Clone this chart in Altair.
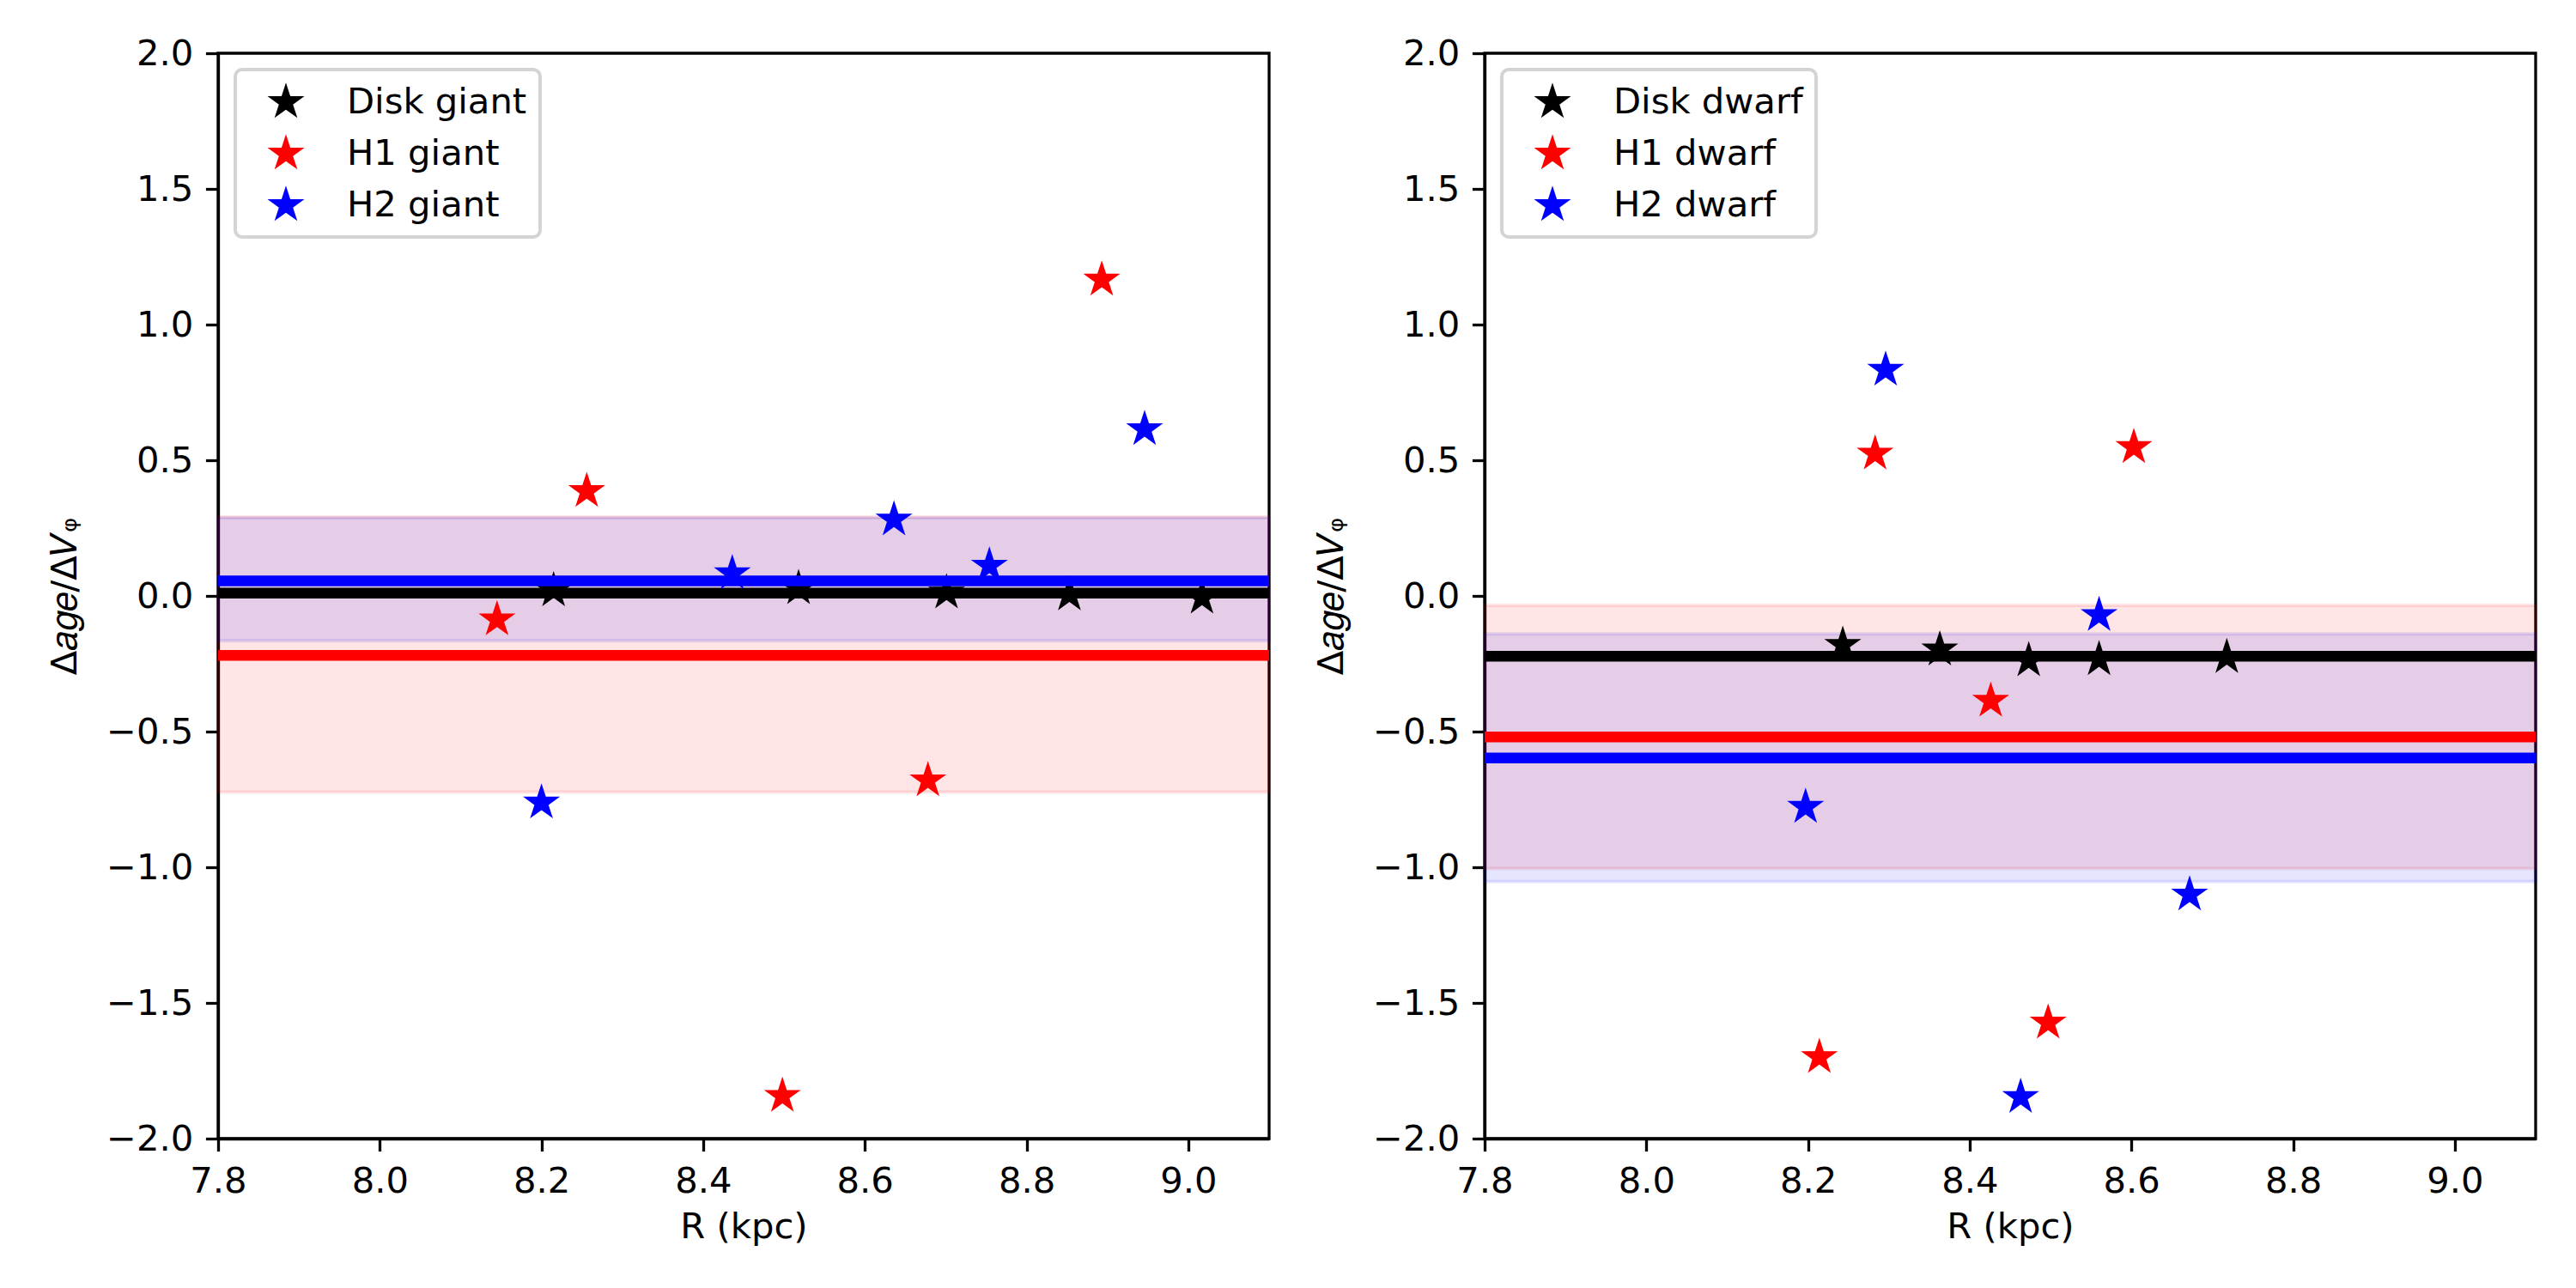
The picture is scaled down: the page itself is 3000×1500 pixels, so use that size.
import altair as alt
import pandas as pd

# ---------------- data ----------------
# Left panel: giants
disk_giant_R = [8.215, 8.518, 8.701, 8.853, 9.017]
disk_giant_v = [0.020, 0.028, 0.012, 0.005, -0.007]
h1_giant_R = [8.145, 8.256, 8.498, 8.678, 8.893]
h1_giant_v = [-0.087, 0.386, -1.843, -0.680, 1.165]
h2_giant_R = [8.200, 8.436, 8.636, 8.754, 8.946]
h2_giant_v = [-0.762, 0.083, 0.281, 0.111, 0.614]
giant_labels = ["Disk giant", "H1 giant", "H2 giant"]
giant_mean = [0.010, -0.219, 0.055]
giant_band_lo = [-0.723, -0.165]   # H1, H2
giant_band_hi = [0.291, 0.288]

# Right panel: dwarfs
disk_dwarf_R = [8.243, 8.363, 8.473, 8.560, 8.718]
disk_dwarf_v = [-0.181, -0.198, -0.238, -0.234, -0.226]
h1_dwarf_R = [8.214, 8.283, 8.426, 8.497, 8.603]
h1_dwarf_v = [-1.700, 0.524, -0.387, -1.573, 0.548]
h2_dwarf_R = [8.197, 8.296, 8.463, 8.560, 8.672]
h2_dwarf_v = [-0.778, 0.833, -1.847, -0.071, -1.101]
dwarf_labels = ["Disk dwarf", "H1 dwarf", "H2 dwarf"]
dwarf_mean = [-0.222, -0.520, -0.597]
dwarf_band_lo = [-1.005, -1.053]
dwarf_band_hi = [-0.035, -0.140]

x_ticks = [7.8, 8.0, 8.2, 8.4, 8.6, 8.8, 9.0]
y_ticks = [-2.0, -1.5, -1.0, -0.5, 0.0, 0.5, 1.0, 1.5, 2.0]
series_colors = ["black", "red", "blue"]

# ---------------- styling ----------------
FS = 41.7
W, H = 1224, 1264
STAR = ("M0,-1L0.2245,-0.309L0.951,-0.309L0.363,0.118L0.588,0.809"
        "L0,0.382L-0.588,0.809L-0.363,0.118L-0.951,-0.309L-0.2245,-0.309Z")
STAR_SIZE = 2050
YTITLE = "Δ𝑎𝑔𝑒/Δ𝑉ᵩ"

xscale = alt.Scale(domain=[7.8, 9.1], nice=False, zero=False)
yscale = alt.Scale(domain=[-2.0, 2.0], nice=False, zero=False)


def panel(Rs, vs, labels, means, band_lo, band_hi):
    pts = pd.DataFrame({
        "R": sum(Rs, []),
        "v": sum(vs, []),
        "group": sum([[lab] * len(r) for lab, r in zip(labels, Rs)], []),
    })
    lines = pd.DataFrame({"group": labels, "mean": means, "col": series_colors})
    bands = pd.DataFrame({"group": labels[1:], "lo": band_lo, "hi": band_hi,
                          "col": series_colors[1:]})

    xenc = alt.X("R:Q", scale=xscale,
                 axis=alt.Axis(values=x_ticks, format=".1f", title="R (kpc)"))
    yaxis = alt.Axis(values=y_ticks, format=".1f", title=YTITLE)
    yenc = alt.Y("v:Q", scale=yscale, axis=yaxis)

    band_layer = alt.Chart(bands).mark_rect(
        fillOpacity=0.1, strokeOpacity=0.1, strokeWidth=4
    ).encode(
        y=alt.Y("lo:Q", scale=yscale, axis=yaxis),
        y2="hi:Q",
        fill=alt.Fill("col:N", scale=None),
        stroke=alt.Stroke("col:N", scale=None),
    )

    layers = [band_layer]
    color_scale = alt.Scale(domain=labels, range=series_colors)
    legend = alt.Legend(
        title=None, orient="none", legendX=20, legendY=19,
        symbolType=STAR, symbolSize=STAR_SIZE, symbolStrokeWidth=0,
        symbolOffset=21, labelOffset=48, padding=15, rowPadding=15,
        labelFontSize=FS, labelFont="DejaVu Sans", labelColor="black",
        labelLimit=0,
        fillColor="white", strokeColor="#d4d4d4", cornerRadius=8,
    )
    for lab, c in zip(labels, series_colors):
        rule = alt.Chart(lines).transform_filter(
            alt.datum.group == lab
        ).mark_rule(color=c, strokeWidth=12.5).encode(
            y=alt.Y("mean:Q", scale=yscale)
        )
        stars = alt.Chart(pts).transform_filter(
            alt.datum.group == lab
        ).mark_point(shape=STAR, size=STAR_SIZE, filled=True, opacity=1,
                     strokeWidth=0).encode(
            x=xenc, y=yenc,
            color=alt.Color("group:N", scale=color_scale, legend=legend),
        )
        layers += [rule, stars]
    return alt.layer(*layers).properties(width=W, height=H)


left = panel([disk_giant_R, h1_giant_R, h2_giant_R],
             [disk_giant_v, h1_giant_v, h2_giant_v],
             giant_labels, giant_mean, giant_band_lo, giant_band_hi)
right = panel([disk_dwarf_R, h1_dwarf_R, h2_dwarf_R],
              [disk_dwarf_v, h1_dwarf_v, h2_dwarf_v],
              dwarf_labels, dwarf_mean, dwarf_band_lo, dwarf_band_hi)

chart = alt.hconcat(left, right, spacing=42).resolve_scale(
    color="independent"
).configure(
    padding={"left": 45, "top": 32, "right": 5, "bottom": 5},
    background="white",
).configure_view(
    stroke="black", strokeWidth=3.3
).configure_axis(
    grid=False, zindex=1,
    domainColor="black", domainWidth=3.3,
    tickColor="black", tickWidth=3.3, tickSize=14.6,
    labelFont="DejaVu Sans", labelFontSize=FS, labelColor="black",
    labelPadding=14.6, labelFlush=False, labelOverlap=False,
    titleFont="DejaVu Sans", titleFontSize=FS, titleFontWeight="normal",
    titleColor="black",
).configure_axisX(
    titlePadding=12
).configure_axisY(
    titlePadding=26
).configure_legend(
    strokeWidth=4
)

chart.save("out.html", embed_options={"renderer": "svg", "actions": False})
